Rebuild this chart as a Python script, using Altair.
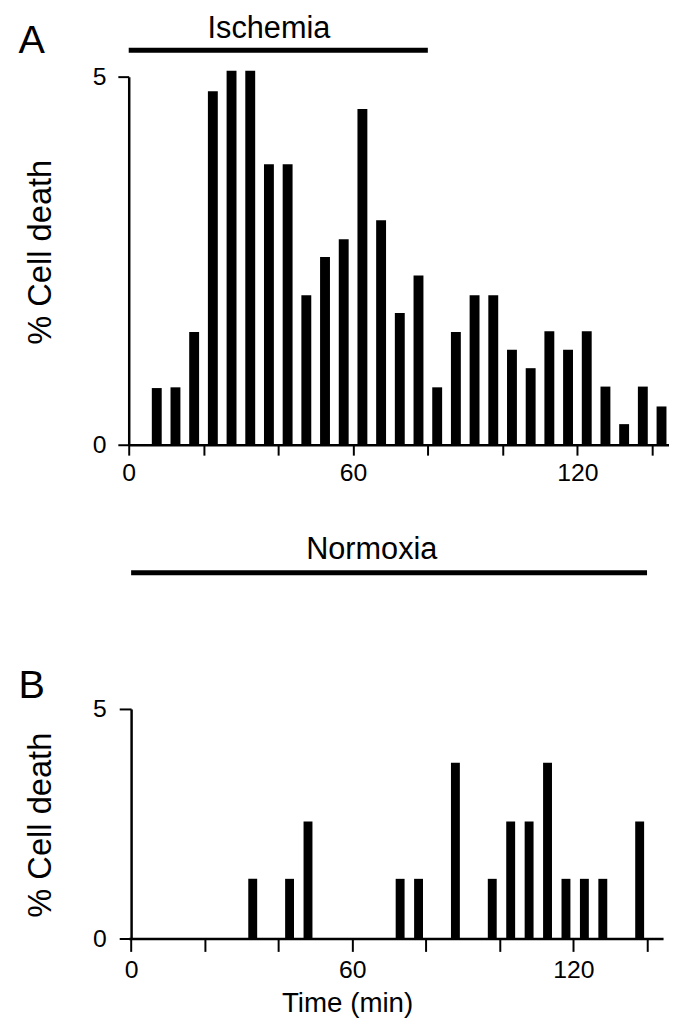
import altair as alt
import pandas as pd

# ---- data ----
ischemia_time = [7.5, 12.5, 17.5, 22.5, 27.5, 32.5, 37.5, 42.5, 47.5, 52.5,
                 57.5, 62.5, 67.5, 72.5, 77.5, 82.5, 87.5, 92.5, 97.5, 102.5,
                 107.5, 112.5, 117.5, 122.5, 127.5, 132.5, 137.5, 142.5]
ischemia_pct = [0.77, 0.78, 1.53, 4.80, 5.08, 5.08, 3.81, 3.81, 2.03, 2.55,
                2.79, 4.56, 3.05, 1.79, 2.30, 0.78, 1.53, 2.03, 2.03, 1.29,
                1.04, 1.54, 1.29, 1.54, 0.79, 0.28, 0.79, 0.52]

normoxia_time = [33, 43, 48, 73, 78, 88, 98, 103, 108, 113, 118, 123, 128, 138]
normoxia_pct = [1.30, 1.30, 2.55, 1.30, 1.30, 3.83, 1.30, 2.55, 2.55, 3.83,
                1.30, 1.30, 1.30, 2.55]

x_ticks = [0, 10, 20, 30, 40, 50, 60, 70, 80, 90, 100, 110, 120, 130, 140]
y_ticks = [0, 5]
ischemia_period = [0, 80]
normoxia_period = [0, 140]
panel_letters = ["A", "B"]
conditions = ["Ischemia", "Normoxia"]
y_title = "% Cell death"
x_title = "Time (min)"

FONT = "Liberation Sans"
LABEL_EXPR = "datum.value % 60 === 0 ? datum.label : ''"


def x_axis(tick_size, title=None, **kw):
    args = dict(values=x_ticks, labelExpr=LABEL_EXPR, grid=False,
                domainColor="black", domainWidth=2.5, tickColor="black",
                tickWidth=2, tickSize=tick_size, labelFont=FONT,
                labelFontSize=25, labelColor="black", labelPadding=6,
                labelFlush=False, labelOverlap=False, title=title)
    if title is not None:
        args.update(titleFont=FONT, titleFontSize=28, titleFontWeight="normal",
                    titleColor="black", titleAlign="center",
                    titleBaseline="alphabetic")
    args.update(kw)
    return alt.Axis(**args)


def y_axis(tick_size, label_pad, title_x, title_y, **kw):
    return alt.Axis(values=y_ticks, grid=False, domainColor="black",
                    domainWidth=2.5, tickColor="black", tickWidth=2,
                    tickSize=tick_size, labelFont=FONT, labelFontSize=25,
                    labelColor="black", labelPadding=label_pad,
                    title=y_title, titleFont=FONT, titleFontSize=33,
                    titleFontWeight="normal", titleColor="black",
                    titleAngle=270, titleAlign="center",
                    titleBaseline="alphabetic", titleX=title_x,
                    titleY=title_y, **kw)


def panel(times, pcts, bar_size, xdomain, xaxis, yaxis, period, cond,
          cond_x, cond_y, bar_y, letter, letter_y, width, height):
    df = pd.DataFrame({"time": times, "pct": pcts})
    xscale = alt.Scale(domain=xdomain, nice=False, zero=False, padding=0)
    bars = alt.Chart(df).mark_bar(size=bar_size, color="black").encode(
        x=alt.X("time:Q", scale=xscale, axis=xaxis),
        y=alt.Y("pct:Q", scale=alt.Scale(domain=[0, 5], nice=False, padding=0),
                axis=yaxis),
    )
    rule = alt.Chart(pd.DataFrame({"c": [cond]})).mark_rule(
        color="black", strokeWidth=5
    ).encode(x=alt.datum(period[0]), x2=alt.datum(period[1]), y=alt.value(bar_y))
    cond_text = alt.Chart(pd.DataFrame({"c": [cond]})).mark_text(
        font=FONT, fontSize=31, color="black", align="center",
        baseline="alphabetic"
    ).encode(x=alt.datum(cond_x), y=alt.value(cond_y), text="c:N")
    letter_text = alt.Chart(pd.DataFrame({"l": [letter]})).mark_text(
        font=FONT, fontSize=40, color="black", align="left",
        baseline="alphabetic"
    ).encode(x=alt.value(-111.3), y=alt.value(letter_y), text="l:N")
    return alt.layer(bars, rule, cond_text, letter_text).properties(
        width=width, height=height)


panel_a = panel(
    ischemia_time, ischemia_pct, 10, [0, 144.5],
    x_axis(10.5),
    y_axis(11, 12, -79.3, 177),
    ischemia_period, conditions[0], 37.5, -38.7, -26.7,
    panel_letters[0], -23.7, 546, 372,
)

panel_b = panel(
    normoxia_time, normoxia_pct, 9, [-0.65, 144.35],
    x_axis(13, title=x_title, titleX=220.7, titleY=74),
    y_axis(12, 13, -81.7, 117, offset=-2.4),
    normoxia_period, conditions[1], 65.3, -151.7, -137.7,
    panel_letters[1], -10.7, 540, 232,
)

chart = alt.vconcat(panel_a, panel_b, spacing=267, bounds="flush").properties(
    padding={"left": 10, "top": 0, "right": 0, "bottom": 0}
).configure_view(strokeWidth=0)

chart.save("out.html", embed_options={"renderer": "svg", "actions": False})
